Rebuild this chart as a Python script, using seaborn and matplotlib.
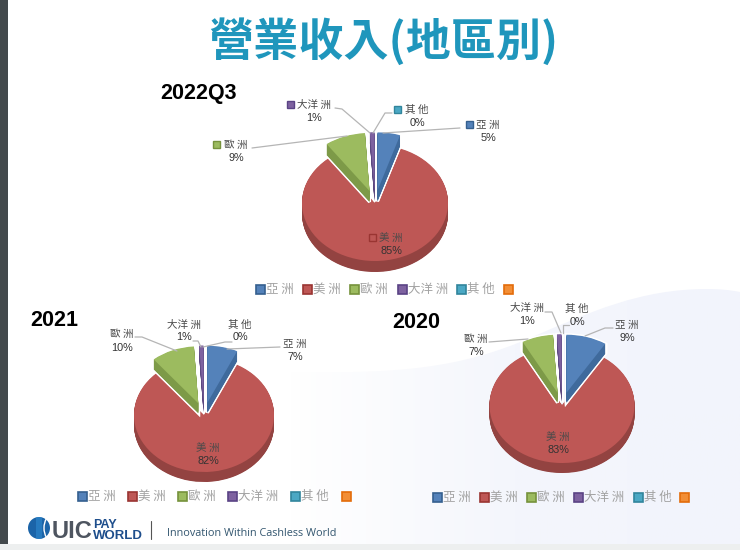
import numpy as np
import matplotlib
matplotlib.use("Agg")
import matplotlib.pyplot as plt
from matplotlib.patches import Rectangle, Circle, PathPatch, Arc
from matplotlib.path import Path
from matplotlib.colors import LinearSegmentedColormap
import seaborn as sns

sns.set_theme(style="white")
plt.rcParams['font.family'] = ['Noto Sans CJK TC', 'DejaVu Sans']

# ---- data ----
regions = ['亞洲', '美洲', '歐洲', '大洋洲', '其他']
legend_names = ['亞 洲', '美 洲', '歐 洲', '大洋 洲', '其 他', '']
values_2022q3 = [5, 85, 9, 1, 0]
values_2021 = [7, 82, 10, 1, 0]
values_2020 = [9, 83, 7, 1, 0]
titles = ['2022Q3', '2021', '2020']

palette = sns.color_palette(['#5482BA', '#BE5755', '#9CBB5F', '#7E62A0', '#4BA8C4', '#F28E36'])
sides = sns.color_palette(['#3F6A9C', '#934341', '#7D9A48', '#5C4880', '#38859C', '#C06A20'])
edges = sns.color_palette(['#35608F', '#9A3532', '#76923C', '#5A4385', '#31859C', '#E36C0A'])

W, H = 740, 550
fig = plt.figure(figsize=(W / 100, H / 100), dpi=100, facecolor='white')

# overlay in pixel coordinates, for background and annotations
bg = fig.add_axes([0, 0, 1, 1], zorder=0)
bg.set_xlim(0, W); bg.set_ylim(H, 0); bg.axis('off')

# soft swoosh in the lower right
verts = [(290, 372), (400, 374), (460, 368), (530, 338), (590, 312), (640, 289), (707, 289),
         (720, 289), (730, 290), (740, 292), (740, 545), (290, 545), (290, 372)]
codes = [Path.MOVETO] + [Path.CURVE4] * 9 + [Path.LINETO] * 3
clip = PathPatch(Path(verts, codes), fc='none', ec='none', transform=bg.transData)
bg.add_patch(clip)
cmap = LinearSegmentedColormap.from_list('s', ['#FFFFFF', '#F4F6FC', '#F2F4FC'])
grad = np.linspace(0, 1, 256).reshape(1, -1)
im = bg.imshow(grad, extent=(290, 740, 545, 289), cmap=cmap, aspect='auto', zorder=0)
im.set_clip_path(clip)
bg.set_xlim(0, W); bg.set_ylim(H, 0)

# window frame
bg.add_patch(Rectangle((0, 0), 8, 544, fc='#43494C', ec='none', zorder=1))
bg.add_patch(Rectangle((0, 544), W, 6, fc='#EDEFEF', ec='none', zorder=1))


def draw_pie(values, cx, cy, rx, ry, depth):
    span = 1.6
    ax = fig.add_axes([(cx - span * rx) / W, 1 - (cy + span * ry) / H,
                       2 * span * rx / W, 2 * span * ry / H], zorder=1)
    ax.patch.set_alpha(0)
    explode = [0.22, 0, 0.22, 0.22, 0.22]
    offsets = list(np.linspace(depth / ry, 0.01, int(depth) * 2)) + [0]
    for off in offsets:
        cols = palette[:5] if off == 0 else sides[:5]
        # coloured wedges: the large slice below, the pulled-out ones above
        wedges, _ = ax.pie(values, colors=cols, startangle=90, counterclock=False,
                           explode=explode, center=(0, -off), radius=1,
                           wedgeprops=dict(linewidth=0), normalize=True)
        for i, w in enumerate(wedges):
            w.set_zorder(1 if i == 1 else 4)
        # white halo that separates pulled-out slices from the large slice
        halo, _ = ax.pie(values, colors=['white'] * 5, startangle=90, counterclock=False,
                         explode=explode, center=(0, -off), radius=1,
                         wedgeprops=dict(linewidth=2.2, edgecolor='white'), normalize=True)
        for i, w in enumerate(halo):
            w.set_zorder(3)
            w.set_visible(i != 1)
    ax.set_aspect('auto')
    ax.set_xlim(-span, span)
    ax.set_ylim(-span, span)
    ax.axis('off')


draw_pie(values_2022q3, 375, 203, 73, 58, 11)
draw_pie(values_2021, 204, 415, 70, 57, 10)
draw_pie(values_2020, 562, 405, 72.5, 58, 10)

# top overlay
ov = fig.add_axes([0, 0, 1, 1], zorder=5)
ov.set_xlim(0, W); ov.set_ylim(H, 0); ov.axis('off'); ov.patch.set_alpha(0)

ov.text(383, 42, '營業收入(地區別)', color='#1F96BC', fontsize=32.5, weight='bold',
        ha='center', va='center')

bold = dict(family=['Liberation Sans'], weight='bold', color='black', fontsize=15.5, va='center')
ov.text(160, 93, titles[0], **bold)
ov.text(30, 320, titles[1], **bold)
ov.text(392, 323, titles[2], **bold)


def label(name, pct, x, y, y2, marker=None):
    spaced = ' '.join(name) if len(name) == 2 else name[:2] + ' ' + name[2:]
    ov.text(x, y, spaced, fontsize=7.6, color='#4A4A4A', ha='center', va='center')
    ov.text(x, y2, f'{pct}%', fontsize=7.8, color='#333333', ha='center', va='center',
            family=['Liberation Sans'])
    if marker:
        ov.add_patch(Rectangle((marker - 3.5, y - 4), 7, 7, fc=palette[regions.index(name)],
                               ec=edges[regions.index(name)], lw=1))


def leader(pts):
    xs, ys = zip(*pts)
    ov.plot(xs, ys, color='#B5B5B5', lw=0.9, solid_capstyle='round')


# 2022Q3
v = values_2022q3
label('大洋洲', v[3], 314, 105, 118, marker=290)
label('其他', v[4], 417, 110, 123, marker=397)
label('亞洲', v[0], 488, 125, 138, marker=469)
label('歐洲', v[2], 236, 145, 158, marker=216)
label('美洲', v[1], 391, 238, 251, marker=372)
leader([(335, 108), (342, 109), (370, 133)])
leader([(392, 113), (385, 113), (373, 133)])
leader([(460, 128), (383, 133)])
leader([(252, 148), (347, 136)])

# 2021
v = values_2021
label('歐洲', v[2], 122, 334, 348)
label('大洋洲', v[3], 184, 325, 337)
label('其他', v[4], 240, 325, 337)
label('亞洲', v[0], 295, 344, 357)
label('美洲', v[1], 208, 448, 461)
leader([(135, 337), (142, 337), (177, 351)])
leader([(193, 341), (198, 341), (201, 347)])
leader([(232, 342), (225, 342), (203, 347)])
leader([(280, 347), (227, 349)])

# 2020
v = values_2020
label('歐洲', v[2], 476, 339, 352)
label('大洋洲', v[3], 527, 308, 321)
label('其他', v[4], 577, 309, 322)
label('亞洲', v[0], 627, 325, 338)
label('美洲', v[1], 558, 437, 450)
leader([(489, 342), (528, 339)])
leader([(545, 312), (552, 312), (561, 333)])
leader([(569, 325), (563, 325), (563, 333)])
leader([(613, 328), (605, 328), (585, 336)])


def legend(xs, y):
    for i, x in enumerate(xs):
        ov.add_patch(Rectangle((x - 4.5, y - 4.5), 9, 9, fc=palette[i], ec=edges[i], lw=1.2))
        if legend_names[i]:
            ov.text(x + 6, y, legend_names[i], fontsize=9, color='#A2A2A2', ha='left', va='center')


legend([260, 307, 354, 402, 461, 508], 289)
legend([82, 132, 182, 232, 295, 346], 496)
legend([437, 484, 531, 578, 638, 684], 497)

# footer logo
globe = Circle((39, 528), 11, fc='#1B64A8', ec='none')
ov.add_patch(globe)
band = Rectangle((36, 517), 6, 22, fc='#2F8AD0', ec='none', alpha=0.6)
ov.add_patch(band)
band.set_clip_path(globe)
ov.add_patch(Arc((52, 528), 16, 26, theta1=90, theta2=270, color='white', lw=1.0))
ov.text(52, 531, 'UIC', family=['Liberation Sans'], weight='bold', fontsize=17,
        color='#4E5560', va='center', ha='left')
ov.text(93, 525, 'PAY', family=['Liberation Sans'], weight='bold', fontsize=9, color='#1E4E8C', va='center', ha='left')
ov.text(93, 536, 'WORLD', family=['Liberation Sans'], weight='bold', fontsize=9.5, color='#1E4E8C', va='center', ha='left')
ov.plot([151, 151], [521, 539], color='#555555', lw=0.8)
ov.text(167, 533.5, 'Innovation Within Cashless World', family=['Open Sans'], fontsize=7.8,
        color='#33566F', va='center', ha='left')

fig.savefig('out.png', dpi=100)
